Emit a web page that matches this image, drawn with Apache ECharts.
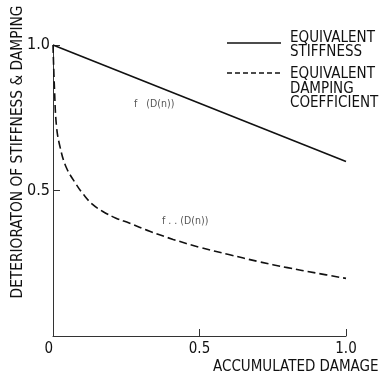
<!DOCTYPE html>
<html>
<head>
<meta charset="utf-8">
<script src="https://cdn.jsdelivr.net/npm/echarts@6/dist/echarts.min.js"></script>
<style>
  html, body { margin: 0; padding: 0; background: #fff; }
  #chart { width: 390px; height: 378px; }
</style>
</head>
<body>
<div id="chart"></div>
<script>
// Accumulated damage (x) and the deterioration factors of the two properties
const stiffnessX = [0, 1.0];
const stiffnessY = [1.0, 0.6];

const dampingX = [0, 0.005, 0.012, 0.024, 0.045, 0.08, 0.105, 0.135, 0.17, 0.215, 0.26, 0.33, 0.41, 0.5, 0.6, 0.7, 0.8, 0.9, 1.0];
const dampingY = [1.0, 0.85, 0.72, 0.65, 0.58, 0.52, 0.485, 0.452, 0.428, 0.405, 0.388, 0.36, 0.332, 0.305, 0.28, 0.256, 0.235, 0.216, 0.198];

const xTickLabels = ['0', '0.5', '1.0'];
const yTickLabels = ['', '0.5', '1.0'];

const stiffnessName = 'EQUIVALENT\nSTIFFNESS';
const dampingName = 'EQUIVALENT\nDAMPING\nCOEFFICIENT';
const xTitle = 'ACCUMULATED DAMAGE';
const yTitle = 'DETERIORATON OF STIFFNESS & DAMPING';

const FONT = '"DejaVu Sans Condensed", "Liberation Sans Narrow", "DejaVu Sans", sans-serif';
const INK = '#111';

const zip = (xs, ys) => xs.map((x, i) => [x, ys[i]]);

const chart = echarts.init(document.getElementById('chart'), null, { renderer: 'canvas' });

chart.setOption({
  backgroundColor: '#fff',
  animation: false,
  grid: { left: 53, right: 44, top: 45, bottom: 42, containLabel: false },
  xAxis: {
    type: 'value', min: 0, max: 1, interval: 0.5,
    axisLine: { lineStyle: { color: '#333', width: 1 } },
    axisTick: { inside: true, length: 7, lineStyle: { color: '#333' } },
    axisLabel: {
      fontFamily: FONT, fontSize: 15, color: INK, margin: 6,
      alignMinLabel: 'right',
      formatter: (v) => xTickLabels[Math.round(v * 2)]
    },
    splitLine: { show: false }
  },
  yAxis: {
    type: 'value', min: 0, max: 1, interval: 0.5,
    axisLine: { show: true, lineStyle: { color: '#333', width: 1 } },
    axisTick: { show: true, inside: true, length: 7, lineStyle: { color: '#333' } },
    axisLabel: {
      fontFamily: FONT, fontSize: 16, color: INK, margin: 3,
      formatter: (v) => yTickLabels[Math.round(v * 2)]
    },
    splitLine: { show: false }
  },
  series: [
    {
      name: stiffnessName, type: 'line', showSymbol: false, symbol: 'none',
      data: zip(stiffnessX, stiffnessY),
      lineStyle: { color: INK, width: 1.6 }
    },
    {
      name: dampingName, type: 'line', showSymbol: false, symbol: 'none',
      smooth: 0.4,
      data: zip(dampingX, dampingY),
      lineStyle: { color: INK, width: 1.6, type: [8, 4] }
    }
  ],
  graphic: [
    // axis titles
    {
      type: 'text', x: 18, y: 152, rotation: Math.PI / 2,
      style: { text: yTitle, font: '15.3px ' + FONT, fill: INK, align: 'center', verticalAlign: 'middle' }
    },
    {
      type: 'text', x: 213, y: 367,
      style: { text: xTitle, font: '15px ' + FONT, fill: INK, align: 'left', verticalAlign: 'middle' }
    },
    // legend
    { type: 'line', shape: { x1: 227, y1: 43, x2: 281, y2: 43 }, style: { stroke: INK, lineWidth: 1.4 } },
    {
      type: 'text', x: 290, y: 31,
      style: { text: stiffnessName, font: '15px ' + FONT, fill: INK, lineHeight: 14, verticalAlign: 'top' }
    },
    { type: 'line', shape: { x1: 227, y1: 73, x2: 281, y2: 73 }, style: { stroke: INK, lineWidth: 1.4, lineDash: [5, 3] } },
    {
      type: 'text', x: 290, y: 67,
      style: { text: dampingName, font: '15px ' + FONT, fill: INK, lineHeight: 14.5, verticalAlign: 'top' }
    },
    // curve annotations
    {
      type: 'text', x: 134, y: 99,
      style: { text: 'f   (D(n))', font: '10.5px ' + FONT, fill: '#555' }
    },
    {
      type: 'text', x: 162, y: 216,
      style: { text: 'f . . (D(n))', font: '10.5px ' + FONT, fill: '#555' }
    }
  ]
});
</script>
</body>
</html>
